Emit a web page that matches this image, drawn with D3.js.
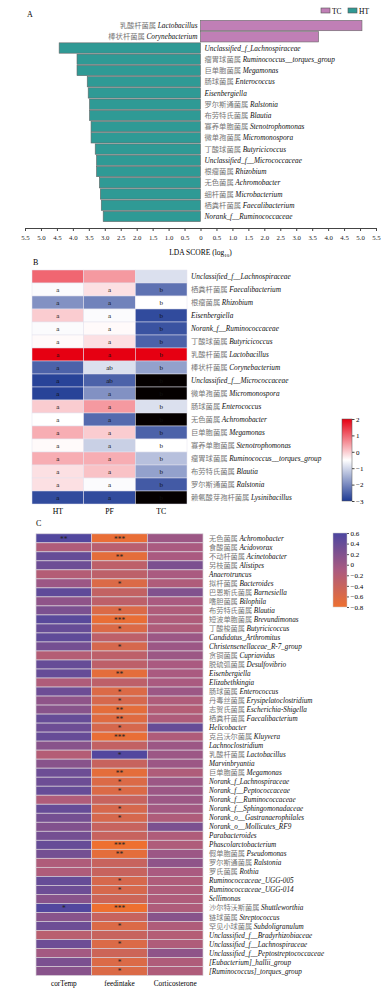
<!DOCTYPE html>
<html>
<head>
<meta charset="utf-8">
<script src="https://cdn.jsdelivr.net/npm/d3@7"></script>
<style>
  body { margin: 0; background: #fff; }
  svg text { font-family: "Liberation Serif", "Times New Roman", serif; }
  .cn { font-family: "Noto Sans CJK SC", sans-serif; fill: #777; }
  .la { font-style: italic; fill: #111; }
</style>
</head>
<body>
<svg id="chart" width="388" height="1000"></svg>
<script>
// ---- panel A: LEfSe bars ----
const ldaCn = ["乳酸杆菌属", "棒状杆菌属", "", "瘤胃球菌属", "巨单胞菌属", "肠球菌属", "", "罗尔斯通菌属", "布劳特氏菌属",
  "寡养单胞菌属", "微单孢菌属", "丁酸球菌属", "", "根瘤菌属", "无色菌属", "细杆菌属", "栖粪杆菌属", ""];
const ldaLatin = ["Lactobacillus", "Corynebacterium", "Unclassified_f_Lachnospiraceae", "Ruminococcus__torques_group",
  "Megamonas", "Enterococcus", "Eisenbergiella", "Ralstonia", "Blautia", "Stenotrophomonas", "Micromonospora",
  "Butyricicoccus", "Unclassified_f__Micrococcaceae", "Rhizobium", "Achromobacter", "Microbacterium",
  "Faecalibacterium", "Norank_f__Ruminococcaceae"];
const ldaGroup = ["TC", "TC", "HT", "HT", "HT", "HT", "HT", "HT", "HT", "HT", "HT", "HT", "HT", "HT", "HT", "HT", "HT", "HT"];
const ldaScore = [5.06, 3.70, 4.43, 3.87, 3.87, 3.55, 3.52, 3.48, 3.48, 3.43, 3.43, 3.30, 3.26, 3.26, 3.17, 3.14, 3.11, 3.05];
const ldaTicks = [-5.5, -5, -4.5, -4, -3.5, -3, -2.5, -2, -1.5, -1, -0.5, 0, 0.5, 1, 1.5, 2, 2.5, 3, 3.5, 4, 4.5, 5, 5.5];

// ---- panel B: z-score heatmap (null = no detection, drawn black) ----
const zCn = ["", "栖粪杆菌属", "根瘤菌属", "", "", "丁酸球菌属", "乳酸杆菌属", "棒状杆菌属", "", "微单孢菌属", "肠球菌属",
  "无色菌属", "巨单胞菌属", "寡养单胞菌属", "瘤胃球菌属", "布劳特氏菌属", "罗尔斯通菌属", "赖氨酸芽孢杆菌属"];
const zLatin = ["Unclassified_f__Lachnospiraceae", "Faecalibacterium", "Rhizobium", "Eisenbergiella",
  "Norank_f__Ruminococcaceae", "Butyricicoccus", "Lactobacillus", "Corynebacterium", "Unclassified_f__Micrococcaceae",
  "Micromonospora", "Enterococcus", "Achromobacter", "Megamonas", "Stenotrophomonas", "Ruminococcus__torques_group",
  "Blautia", "Ralstonia", "Lysinibacillus"];
const zGroups = ["HT", "PF", "TC"];
const zHT = [1.0, -0.55, -1.9, 0.0, -0.55, -0.45, 2.0, -2.5, -2.9, -2.9, 0.0, -0.5, 0.3, -0.45, 0.3, -0.2, -0.2, -2.8];
const zPF = [0.5, -0.2, -2.1, -0.55, -0.45, -0.2, 2.0, -0.9, -2.5, -1.9, 0.5, -2.4, 0.0, -1.1, 0.3, 0.1, -0.55, -2.8];
const zTC = [-0.9, -2.3, -0.5, -2.8, -2.7, -2.5, 2.0, -1.7, null, null, -0.9, null, -2.5, -0.5, -1.3, -1.7, -2.6, null];
const zLetHT = ["", "a", "a", "a", "a", "a", "a", "a", "a", "a", "a", "a", "a", "a", "a", "a", "a", "a"];
const zLetPF = ["", "a", "a", "a", "a", "a", "a", "ab", "ab", "a", "a", "a", "a", "a", "a", "a", "a", "a"];
const zLetTC = ["", "b", "b", "b", "b", "b", "b", "b", "b", "b", "b", "b", "b", "b", "b", "b", "b", "b"];

// ---- panel C: correlation heatmap ----
const corCn = ["无色菌属", "食酸菌属", "不动杆菌属", "另枝菌属", "", "拟杆菌属", "巴恩斯氏菌属", "嗜胆菌属", "布劳特氏菌属",
  "短波单胞菌属", "丁酸梭菌属", "", "", "贪铜菌属", "脱硫弧菌属", "", "", "肠球菌属", "丹毒丝菌属", "志贺氏菌属",
  "栖粪杆菌属", "", "克吕沃尔菌属", "", "乳酸杆菌属", "", "巨单胞菌属", "", "", "", "", "", "", "", "", "假单胞菌属",
  "罗尔斯通菌属", "罗氏菌属", "", "", "", "沙尔特沃斯菌属", "链球菌属", "罕见小球菌属", "", "", "", "", ""];
const corLatin = ["Achromobacter", "Acidovorax", "Acinetobacter", "Alistipes", "Anaerotruncus", "Bacteroides",
  "Barnesiella", "Bilophila", "Blautia", "Brevundimonas", "Butyricicoccus", "Candidatus_Arthromitus",
  "Christensenellaceae_R-7_group", "Cupriavidus", "Desulfovibrio", "Eisenbergiella", "Elizabethkingia",
  "Enterococcus", "Erysipelatoclostridium", "Escherichia-Shigella", "Faecalibacterium", "Helicobacter", "Kluyvera",
  "Lachnoclostridium", "Lactobacillus", "Marvinbryantia", "Megamonas", "Norank_f_Lachnospiraceae",
  "Norank_f__Peptococcaceae", "Norank_f__Ruminococcaceae", "Norank_f__Sphingomonadaceae",
  "Norank_o__Gastranaerophilales", "Norank_o__Mollicutes_RF9", "Parabacteroides", "Phascolarctobacterium",
  "Pseudomonas", "Ralstonia", "Rothia", "Ruminococcaceae_UGG-005", "Ruminococcaceae_UGG-014", "Sellimonas",
  "Shuttleworthia", "Streptococcus", "Subdoligranulum", "Unclassified_f__Bradyrhizobiaceae",
  "Unclassified_f__Lachnospiraceae", "Unclassified_f__Peptostreptococcaceae", "[Eubacterium]_hallii_group",
  "[Ruminococcus]_torques_group"];
const corVars = ["corTemp", "feedintake", "Corticosterone"];
const corTemp = [0.55, -0.15, 0.4, 0.35, -0.2, 0.0, 0.45, 0.1, 0.25, 0.5, 0.4, 0.45, 0.3, -0.2, 0.4, 0.4, -0.15, 0.35,
  0.1, 0.15, 0.4, 0.35, 0.4, 0.15, -0.2, 0.15, 0.35, 0.35, 0.4, -0.15, 0.4, 0.3, 0.2, 0.3, 0.4, 0.3, -0.15, -0.15, 0.4,
  0.35, 0.15, 0.55, 0.15, 0.35, -0.25, 0.35, -0.05, 0.25, 0.15];
const corFeed = [-0.75, -0.25, -0.7, -0.3, -0.3, -0.6, -0.35, -0.3, -0.6, -0.75, -0.6, -0.3, -0.55, -0.3, -0.3, -0.7,
  -0.3, -0.6, -0.55, -0.7, -0.65, -0.55, -0.75, -0.35, 0.55, -0.4, -0.7, -0.6, -0.6, -0.4, -0.55, -0.55, -0.4, -0.4,
  -0.8, -0.7, -0.4, -0.4, -0.55, -0.55, -0.45, -0.8, -0.4, -0.6, -0.4, -0.6, -0.45, -0.6, -0.6];
const corCort = [0.0, -0.1, -0.1, 0.25, -0.1, -0.15, 0.2, -0.1, -0.15, -0.15, -0.15, 0.0, 0.0, 0.0, -0.1, -0.1, -0.1,
  0.0, -0.15, -0.2, -0.15, 0.4, -0.15, 0.0, 0.0, 0.0, -0.15, 0.0, 0.0, 0.0, -0.05, -0.15, 0.25, -0.15, -0.15, 0.0, 0.1,
  -0.1, -0.15, -0.15, -0.15, -0.15, 0.15, -0.15, -0.2, -0.15, 0.1, -0.15, -0.15];
const sigTemp = ["**", "", "", "", "", "", "", "", "", "", "", "", "", "", "", "", "", "", "", "", "", "", "", "", "",
  "", "", "", "", "", "", "", "", "", "", "", "", "", "", "", "", "*", "", "", "", "", "", "", ""];
const sigFeed = ["***", "", "**", "", "", "*", "", "", "*", "***", "*", "", "*", "", "", "**", "", "*", "*", "**", "**",
  "*", "***", "", "*", "", "**", "*", "*", "", "*", "*", "", "", "***", "**", "", "", "*", "*", "", "***", "", "*", "",
  "*", "", "*", "*"];
const sigCort = corLatin.map(() => "");

const svg = d3.select("#chart");

// label helper: grey chinese name + italic latin name
function taxonLabel(sel, cn, la) {
  sel.append("tspan").attr("class", "cn").text(cn ? cn + " " : "");
  sel.append("tspan").attr("class", "la").text(la);
}

// ================= A =================
svg.append("text").attr("x", 27).attr("y", 17).attr("font-size", 8).text("A");

const xA = d3.scaleLinear().domain([-5.5, 5.5]).range([25, 376]);
const yA = d3.scaleBand().domain(d3.range(ldaLatin.length)).range([20.4, 221.6]).paddingInner(0.08);
const colA = {TC: "#c07fb6", HT: "#2f9a95"};

const ldaRows = ldaLatin.map((d, i) => ({cn: ldaCn[i], la: d, g: ldaGroup[i], v: ldaGroup[i] == "TC" ? ldaScore[i] : -ldaScore[i]}));

svg.append("g").selectAll("rect").data(ldaRows).enter().append("rect")
  .attr("x", d => Math.min(xA(0), xA(d.v)))
  .attr("y", (d, i) => yA(i))
  .attr("width", d => Math.abs(xA(d.v) - xA(0)))
  .attr("height", yA.bandwidth())
  .attr("fill", d => colA[d.g])
  .attr("stroke", "#666").attr("stroke-width", 0.6);

svg.append("g").selectAll("text").data(ldaRows).enter().append("text")
  .attr("x", d => d.v > 0 ? xA(0) - 3 : xA(0) + 4)
  .attr("y", (d, i) => yA(i) + yA.bandwidth() / 2 + 2.6)
  .attr("text-anchor", d => d.v > 0 ? "end" : "start")
  .attr("font-size", 7.3)
  .each(function (d) { taxonLabel(d3.select(this), d.cn, d.la); });

svg.append("g").attr("transform", "translate(0,228)")
  .call(d3.axisBottom(xA).tickValues(ldaTicks).tickSize(3).tickSizeOuter(0)
    .tickFormat(d => d == 0 ? "0" : Math.abs(d).toFixed(1)))
  .call(g => g.selectAll("text").attr("font-size", 6.8).attr("fill", "#222").attr("dy", "0.9em"))
  .call(g => g.selectAll("line,path").attr("stroke", "#444"));

const lda = svg.append("text").attr("x", xA(0)).attr("y", 255).attr("text-anchor", "middle").attr("font-size", 7.5);
lda.append("tspan").text("LDA SCORE (log");
lda.append("tspan").attr("font-size", 5).attr("dy", 2).text("10");
lda.append("tspan").attr("dy", -2).text(")");

// legend
const legA = svg.append("g");
["TC", "HT"].forEach((k, i) => {
  const lx = 321 + i * 27;
  legA.append("rect").attr("x", lx).attr("y", 8).attr("width", 9).attr("height", 5)
    .attr("fill", colA[k]).attr("stroke", "#555").attr("stroke-width", 0.6);
  legA.append("text").attr("x", lx + 11).attr("y", 13.5).attr("font-size", 7.5).text(k);
});

// ================= B =================
svg.append("text").attr("x", 33).attr("y", 265).attr("font-size", 8).text("B");

const xB = d3.scaleBand().domain(zGroups).range([32, 187]);
const yB = d3.scaleBand().domain(d3.range(zLatin.length)).range([270, 504]);
const colB = d3.scaleLinear().domain([-3, -0.5, 2]).range(["#1f3b94", "#ffffff", "#e60012"]).clamp(true);

const zCols = [zHT, zPF, zTC];
const zLets = [zLetHT, zLetPF, zLetTC];
const cellsB = [];
zLatin.forEach((d, i) => zGroups.forEach((g, j) => cellsB.push({r: i, g: g, v: zCols[j][i], t: zLets[j][i]})));

svg.append("g").selectAll("rect").data(cellsB).enter().append("rect")
  .attr("x", d => xB(d.g)).attr("y", d => yB(d.r))
  .attr("width", xB.bandwidth()).attr("height", yB.bandwidth())
  .attr("fill", d => d.v == null ? "#050000" : colB(d.v))
  .attr("stroke", "#e4e2ee").attr("stroke-width", 0.5);

svg.append("g").selectAll("text").data(cellsB).enter().append("text")
  .attr("x", d => xB(d.g) + xB.bandwidth() / 2)
  .attr("y", d => yB(d.r) + yB.bandwidth() / 2 + 2.5)
  .attr("text-anchor", "middle").attr("font-size", 7).attr("fill", "#111")
  .text(d => d.t);

svg.append("g").selectAll("text").data(zLatin).enter().append("text")
  .attr("x", 191).attr("y", (d, i) => yB(i) + yB.bandwidth() / 2 + 2.6)
  .attr("font-size", 7.3)
  .each(function (d, i) { taxonLabel(d3.select(this), zCn[i], d); });

svg.append("g").selectAll("text").data(zGroups).enter().append("text")
  .attr("x", d => xB(d) + xB.bandwidth() / 2).attr("y", 514)
  .attr("text-anchor", "middle").attr("font-size", 7.8).text(d => d);

// colour bar B
const defs = svg.append("defs");
const gradB = defs.append("linearGradient").attr("id", "gradB").attr("x1", 0).attr("x2", 0).attr("y1", 1).attr("y2", 0);
d3.range(0, 1.01, 0.1).forEach(t => gradB.append("stop").attr("offset", t).attr("stop-color", colB(-3 + 5 * t)));
const cbB = d3.scaleLinear().domain([-3, 2]).range([501, 419]);
svg.append("rect").attr("x", 342).attr("y", 419).attr("width", 10).attr("height", 82)
  .attr("fill", "url(#gradB)").attr("stroke", "#555").attr("stroke-width", 0.5);
svg.append("g").attr("transform", "translate(352,0)")
  .call(d3.axisRight(cbB).ticks(6).tickSize(2.5).tickFormat(d3.format("d")))
  .call(g => g.select(".domain").remove())
  .call(g => g.selectAll("text").attr("font-size", 7).attr("x", 4))
  .call(g => g.selectAll("line").attr("stroke", "#444"));

// ================= C =================
svg.append("text").attr("x", 36).attr("y", 526).attr("font-size", 8).text("C");

const xC = d3.scaleBand().domain(corVars).range([36, 203]);
const yC = d3.scaleBand().domain(d3.range(corLatin.length)).range([533.8, 975.5]);
const colC = d3.scaleLinear().domain([-0.8, -0.1, 0.6]).range(["#ee7030", "#aa5a80", "#4b46a0"]).clamp(true);

const cVals = [corTemp, corFeed, corCort];
const cSigs = [sigTemp, sigFeed, sigCort];
const cellsC = [];
corLatin.forEach((d, i) => corVars.forEach((g, j) => cellsC.push({r: i, g: g, v: cVals[j][i], s: cSigs[j][i]})));

svg.append("g").selectAll("rect").data(cellsC).enter().append("rect")
  .attr("x", d => xC(d.g)).attr("y", d => yC(d.r))
  .attr("width", xC.bandwidth()).attr("height", yC.bandwidth())
  .attr("fill", d => colC(d.v))
  .attr("stroke", "#d8d0d8").attr("stroke-width", 0.7);

svg.append("g").selectAll("text").data(cellsC.filter(d => d.s)).enter().append("text")
  .attr("x", d => xC(d.g) + xC.bandwidth() / 2)
  .attr("y", d => yC(d.r) + yC.bandwidth() / 2 + 3.5)
  .attr("text-anchor", "middle").attr("font-size", 7.5).attr("fill", "#222")
  .text(d => d.s);

svg.append("g").selectAll("text").data(corLatin).enter().append("text")
  .attr("x", 209).attr("y", (d, i) => yC(i) + yC.bandwidth() / 2 + 2.6)
  .attr("font-size", 7.2)
  .each(function (d, i) { taxonLabel(d3.select(this), corCn[i], d); });

svg.append("g").selectAll("text").data(corVars).enter().append("text")
  .attr("x", d => xC(d) + xC.bandwidth() / 2).attr("y", 986)
  .attr("text-anchor", "middle").attr("font-size", 7.3).text(d => d);

// colour bar C
const gradC = defs.append("linearGradient").attr("id", "gradC").attr("x1", 0).attr("x2", 0).attr("y1", 1).attr("y2", 0);
d3.range(0, 1.01, 0.1).forEach(t => gradC.append("stop").attr("offset", t).attr("stop-color", colC(-0.8 + 1.4 * t)));
const cbC = d3.scaleLinear().domain([-0.8, 0.6]).range([607, 533]);
svg.append("rect").attr("x", 333).attr("y", 533).attr("width", 14).attr("height", 74)
  .attr("fill", "url(#gradC)").attr("stroke", "#ccc").attr("stroke-width", 0.5);
svg.append("g").attr("transform", "translate(347,0)")
  .call(d3.axisRight(cbC).tickValues([0.6, 0.4, 0.2, 0, -0.2, -0.4, -0.6, -0.8]).tickSize(2)
    .tickFormat(d => d == 0 ? "0" : d3.format(".1f")(d)))
  .call(g => g.select(".domain").remove())
  .call(g => g.selectAll("text").attr("font-size", 7).attr("x", 3.5))
  .call(g => g.selectAll("line").attr("stroke", "#555"));
</script>
</body>
</html>
